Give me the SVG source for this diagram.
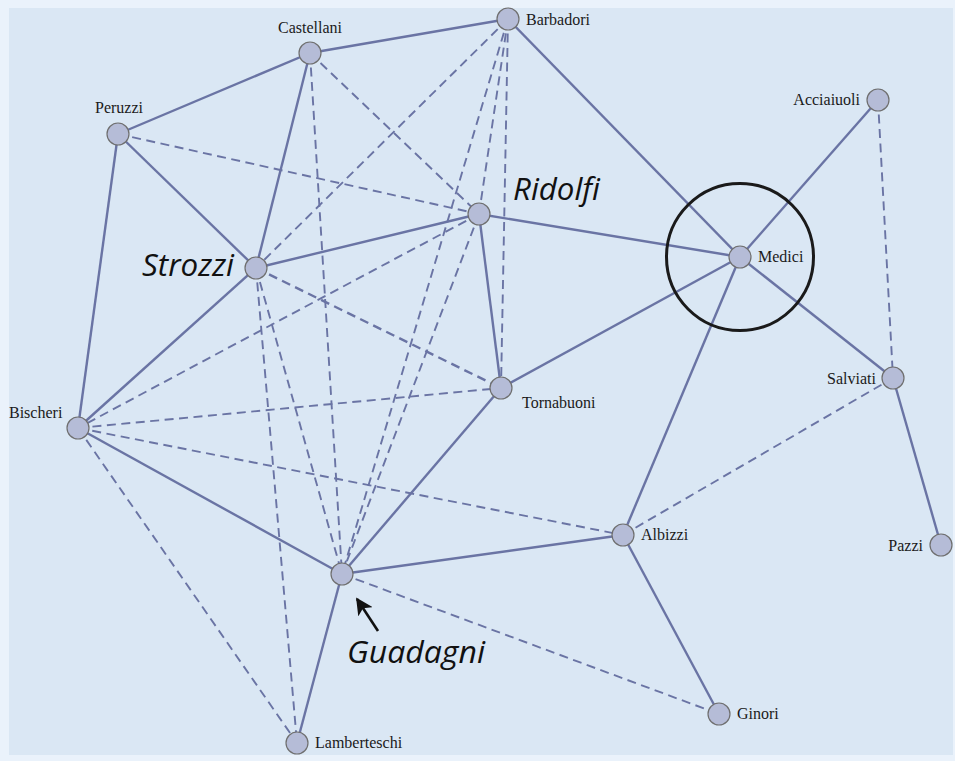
<svg xmlns="http://www.w3.org/2000/svg" width="955" height="761" viewBox="0 0 955 761">
<defs>
<style>
.e{stroke:#6a74a4;fill:none;stroke-linecap:butt}
.s{stroke-width:2.4}
.d{stroke-width:1.9;stroke-dasharray:9 5.5}
.n{fill:#b5bcd7;stroke:#6f6f6f;stroke-width:1.2}
.l{font-family:"Liberation Serif","Times New Roman",serif;font-size:16px;fill:#1a1a1a}
.big{font-family:"Open Sans","Noto Sans",sans-serif;font-style:italic;font-size:31px;fill:#111}
</style>
<marker id="ah" viewBox="0 0 10 10" refX="9" refY="5" markerWidth="6.5" markerHeight="6.5" orient="auto" markerUnits="strokeWidth">
<path d="M0,0 L10,5 L0,10 L2.5,5 Z" fill="#111"/>
</marker>
</defs>
<rect x="0" y="0" width="955" height="761" fill="#eaf2fb"/>
<rect x="9" y="8" width="944" height="747" fill="#dae7f4"/>
<g id="connectors">
<line class="e s" x1="310" y1="53" x2="508" y2="19"/>
<line class="e s" x1="310" y1="53" x2="118" y2="134"/>
<line class="e s" x1="310" y1="53" x2="256" y2="268"/>
<line class="e s" x1="118" y1="134" x2="256" y2="268"/>
<line class="e s" x1="118" y1="134" x2="78" y2="428"/>
<line class="e s" x1="508" y1="19" x2="740" y2="257"/>
<line class="e s" x1="256" y1="268" x2="479" y2="214"/>
<line class="e s" x1="256" y1="268" x2="78" y2="428"/>
<line class="e s" x1="479" y1="214" x2="740" y2="257"/>
<line class="e s" x1="479" y1="214" x2="501" y2="388"/>
<line class="e s" x1="740" y1="257" x2="501" y2="388"/>
<line class="e s" x1="740" y1="257" x2="878" y2="100"/>
<line class="e s" x1="740" y1="257" x2="893" y2="378"/>
<line class="e s" x1="740" y1="257" x2="623" y2="535"/>
<line class="e s" x1="893" y1="378" x2="941" y2="545"/>
<line class="e s" x1="501" y1="388" x2="342" y2="574"/>
<line class="e s" x1="78" y1="428" x2="342" y2="574"/>
<line class="e s" x1="342" y1="574" x2="623" y2="535"/>
<line class="e s" x1="342" y1="574" x2="297" y2="743"/>
<line class="e s" x1="623" y1="535" x2="719" y2="714"/>
<line class="e d" x1="118" y1="134" x2="479" y2="214"/>
<line class="e d" x1="310" y1="53" x2="479" y2="214"/>
<line class="e d" x1="310" y1="53" x2="342" y2="574"/>
<line class="e d" x1="508" y1="19" x2="256" y2="268"/>
<line class="e d" x1="508" y1="19" x2="479" y2="214"/>
<line class="e d" x1="508" y1="19" x2="342" y2="574"/>
<line class="e d" x1="508" y1="19" x2="501" y2="388"/>
<line class="e d" x1="256" y1="268" x2="342" y2="574"/>
<line class="e d" x1="256" y1="268" x2="297" y2="743"/>
<line class="e d" x1="256" y1="268" x2="501" y2="388" style="stroke-width:2.4"/>
<line class="e d" x1="479" y1="214" x2="78" y2="428"/>
<line class="e d" x1="479" y1="214" x2="342" y2="574"/>
<line class="e d" x1="78" y1="428" x2="501" y2="388"/>
<line class="e d" x1="78" y1="428" x2="623" y2="535"/>
<line class="e d" x1="78" y1="428" x2="297" y2="743"/>
<line class="e d" x1="623" y1="535" x2="893" y2="378"/>
<line class="e d" x1="878" y1="100" x2="893" y2="378"/>
<line class="e d" x1="342" y1="574" x2="719" y2="714"/>
</g>
<circle cx="740" cy="257" r="73.5" fill="none" stroke="#1a1a1a" stroke-width="3"/>
<g id="n-castellani"><circle class="n" cx="310" cy="53" r="11"/><text class="l" x="310" y="33" text-anchor="middle">Castellani</text></g>
<g id="n-peruzzi"><circle class="n" cx="118" cy="134" r="11"/><text class="l" x="119" y="113" text-anchor="middle">Peruzzi</text></g>
<g id="n-barbadori"><circle class="n" cx="508" cy="19" r="11"/><text class="l" x="526" y="25">Barbadori</text></g>
<g id="n-ridolfi"><circle class="n" cx="479" cy="214" r="11"/><text class="big" x="513" y="200" textLength="87" lengthAdjust="spacingAndGlyphs">Ridolfi</text></g>
<g id="n-strozzi"><circle class="n" cx="256" cy="268" r="11"/><text class="big" x="142" y="276" textLength="92" lengthAdjust="spacingAndGlyphs">Strozzi</text></g>
<g id="n-medici"><circle class="n" cx="740" cy="257" r="11"/><text class="l" x="758" y="262">Medici</text></g>
<g id="n-acciaiuoli"><circle class="n" cx="878" cy="100" r="11"/><text class="l" x="860" y="105" text-anchor="end">Acciaiuoli</text></g>
<g id="n-salviati"><circle class="n" cx="893" cy="378" r="11"/><text class="l" x="876" y="384" text-anchor="end">Salviati</text></g>
<g id="n-pazzi"><circle class="n" cx="941" cy="545" r="11"/><text class="l" x="923" y="551" text-anchor="end">Pazzi</text></g>
<g id="n-bischeri"><circle class="n" cx="78" cy="428" r="11"/><text class="l" x="9" y="418">Bischeri</text></g>
<g id="n-lamberteschi"><circle class="n" cx="297" cy="743" r="11"/><text class="l" x="315" y="748">Lamberteschi</text></g>
<g id="n-guadagni"><circle class="n" cx="342" cy="574" r="11"/><text class="big" x="347" y="663" textLength="138" lengthAdjust="spacingAndGlyphs">Guadagni</text></g>
<g id="n-tornabuoni"><circle class="n" cx="501" cy="388" r="11"/><text class="l" x="522" y="408">Tornabuoni</text></g>
<g id="n-albizzi"><circle class="n" cx="623" cy="535" r="11"/><text class="l" x="641" y="540">Albizzi</text></g>
<g id="n-ginori"><circle class="n" cx="719" cy="714" r="11"/><text class="l" x="737" y="719">Ginori</text></g>
<line x1="378" y1="631" x2="357" y2="599" stroke="#111" stroke-width="2.6" marker-end="url(#ah)"/>
</svg>
